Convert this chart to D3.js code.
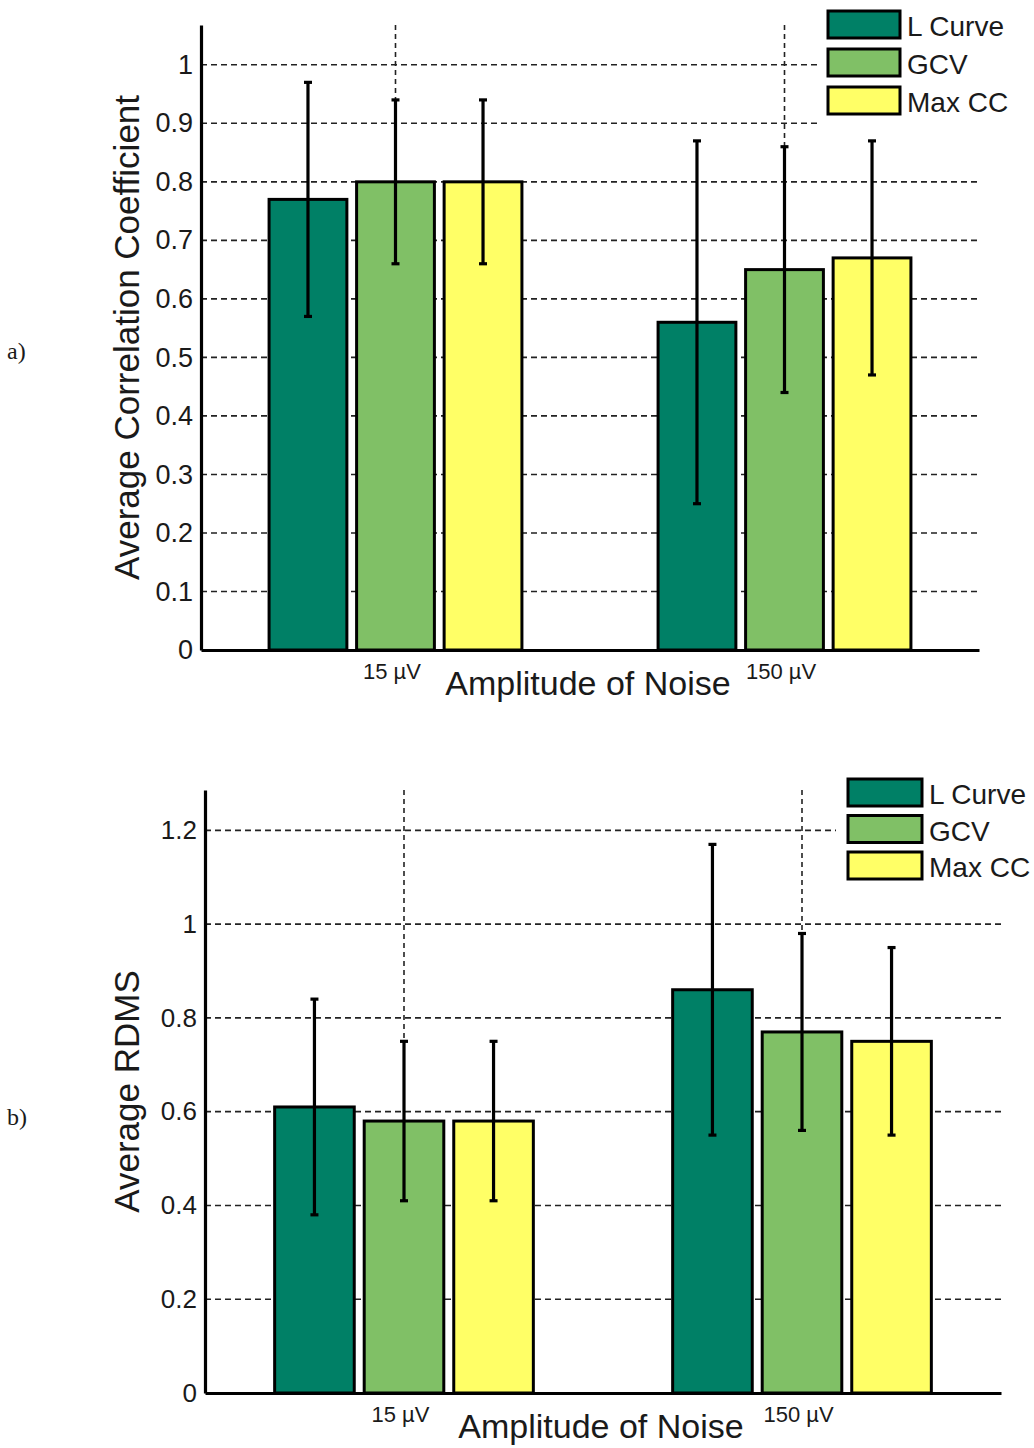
<!DOCTYPE html>
<html>
<head>
<meta charset="utf-8">
<script src="https://cdn.jsdelivr.net/npm/d3@7"></script>
<style>
  body { margin: 0; background: #fff; }
  svg { display: block; }
  text { font-family: "Liberation Sans", Arial, sans-serif; fill: #1a1a1a; }
</style>
</head>
<body>
<svg id="chart" width="1034" height="1448"></svg>
<script>
// data
const methods = ['L Curve', 'GCV', 'Max CC'];
const noiseLevels = ['15 µV', '150 µV'];
const methodColors = ['#008066', '#80c066', '#ffff66'];

// panel a) average correlation coefficient, rows = noise level, cols = method
const ccMeans = [[0.77, 0.80, 0.80], [0.56, 0.65, 0.67]];
const ccErrors = [[0.20, 0.14, 0.14], [0.31, 0.21, 0.20]];
const ccTicks = [0, 0.1, 0.2, 0.3, 0.4, 0.5, 0.6, 0.7, 0.8, 0.9, 1];

// panel b) average RDMS
const rdmsMeans = [[0.61, 0.58, 0.58], [0.86, 0.77, 0.75]];
const rdmsErrors = [[0.23, 0.17, 0.17], [0.31, 0.21, 0.20]];
const rdmsTicks = [0, 0.2, 0.4, 0.6, 0.8, 1, 1.2];

const svg = d3.select('#chart');

function drawPanel(p) {
  const g = svg.append('g');

  const x = d3.scaleLinear().domain([0.5, 2.5]).range([p.left, p.right]);
  const y = d3.scaleLinear().domain([0, p.ymax]).range([p.bottom, p.top]);
  const offset = d3.scalePoint().domain(methods).range([-0.225, 0.225]);
  const barW = x(0.2) - x(0);

  // grid
  g.append('g').selectAll('line')
    .data(p.ticks.filter(d => d > 0))
    .join('line')
    .attr('x1', p.left).attr('x2', p.right)
    .attr('y1', d => y(d)).attr('y2', d => y(d))
    .attr('stroke', '#222').attr('stroke-width', 1.6)
    .attr('stroke-dasharray', '6,4');

  g.append('g').selectAll('line')
    .data(noiseLevels)
    .join('line')
    .attr('x1', (d, i) => x(i + 1)).attr('x2', (d, i) => x(i + 1))
    .attr('y1', p.top).attr('y2', p.bottom)
    .attr('stroke', '#222').attr('stroke-width', 1.6)
    .attr('stroke-dasharray', '5,4');

  // bars
  const rows = [];
  p.means.forEach((row, i) => row.forEach((v, j) => {
    rows.push({ group: i, method: methods[j], color: methodColors[j], value: v, err: p.errors[i][j] });
  }));

  g.append('g').selectAll('rect')
    .data(rows)
    .join('rect')
    .attr('x', d => x(d.group + 1 + offset(d.method)) - barW / 2)
    .attr('y', d => y(d.value))
    .attr('width', barW)
    .attr('height', d => y(0) - y(d.value))
    .attr('fill', d => d.color)
    .attr('stroke', '#000').attr('stroke-width', 3);

  // error bars
  const eb = g.append('g').selectAll('g')
    .data(rows)
    .join('g')
    .attr('stroke', '#000').attr('stroke-width', 3.2);
  eb.append('line')
    .attr('x1', d => x(d.group + 1 + offset(d.method)))
    .attr('x2', d => x(d.group + 1 + offset(d.method)))
    .attr('y1', d => y(d.value - d.err))
    .attr('y2', d => y(d.value + d.err));
  [-1, 1].forEach(s => {
    eb.append('line')
      .attr('x1', d => x(d.group + 1 + offset(d.method)) - 4)
      .attr('x2', d => x(d.group + 1 + offset(d.method)) + 4)
      .attr('y1', d => y(d.value + s * d.err))
      .attr('y2', d => y(d.value + s * d.err));
  });

  // axes
  const yAxis = g.append('g')
    .attr('transform', `translate(${p.left},0)`)
    .call(d3.axisLeft(y).tickValues(p.ticks).tickSize(0).tickPadding(8).tickFormat(d3.format('')));
  yAxis.select('.domain').attr('stroke-width', 3.2);
  yAxis.selectAll('text')
    .style('font-family', '"Liberation Sans", Arial, sans-serif')
    .style('font-size', p.tickFont + 'px')
    .attr('fill', '#1a1a1a');

  const xAxis = g.append('g')
    .attr('transform', `translate(0,${p.bottom})`)
    .call(d3.axisBottom(x).tickValues([1, 2]).tickSize(0).tickPadding(13)
      .tickFormat((d, i) => noiseLevels[i]));
  xAxis.select('.domain').attr('stroke-width', 3.2);
  xAxis.selectAll('text')
    .attr('dx', -4)
    .style('font-family', '"Liberation Sans", Arial, sans-serif')
    .style('font-size', '22px')
    .attr('fill', '#1a1a1a');

  g.append('text')
    .attr('x', (p.left + p.right) / 2 - 2)
    .attr('y', p.bottom + 45)
    .attr('text-anchor', 'middle')
    .style('font-size', '34px')
    .text('Amplitude of Noise');

  g.append('text')
    .attr('transform', `translate(139,${(p.top + p.bottom) / 2}) rotate(-90)`)
    .attr('text-anchor', 'middle')
    .style('font-size', '35px')
    .text(p.yLabel);

  g.append('text')
    .attr('x', 7).attr('y', p.tagY)
    .style('font-family', '"Liberation Serif", "Times New Roman", serif')
    .style('font-size', '24px')
    .text(p.tag);

  // legend
  g.append('rect')
    .attr('x', p.legend.bgX).attr('y', p.legend.y - 12)
    .attr('width', 1034 - p.legend.bgX).attr('height', 3 * p.legend.step + 14)
    .attr('fill', '#fff');

  const leg = g.append('g').selectAll('g')
    .data(methods)
    .join('g')
    .attr('transform', (d, i) => `translate(${p.legend.x},${p.legend.y + i * p.legend.step})`);
  leg.append('rect')
    .attr('width', p.legend.w).attr('height', 27)
    .attr('fill', (d, i) => methodColors[i])
    .attr('stroke', '#000').attr('stroke-width', 3);
  leg.append('text')
    .attr('x', p.legend.w + 7).attr('y', 25)
    .style('font-size', '28px')
    .text(d => d);
}

drawPanel({
  left: 201, right: 979, top: 25, bottom: 650, ymax: 1.068,
  ticks: ccTicks, means: ccMeans, errors: ccErrors, tickFont: 27,
  yLabel: 'Average Correlation Coefficient', tag: 'a)', tagY: 359,
  legend: { x: 828, y: 11, step: 38, w: 72, bgX: 818 }
});

drawPanel({
  left: 205, right: 1001, top: 790, bottom: 1393, ymax: 1.286,
  ticks: rdmsTicks, means: rdmsMeans, errors: rdmsErrors, tickFont: 26,
  yLabel: 'Average RDMS', tag: 'b)', tagY: 1125,
  legend: { x: 848, y: 779, step: 36.5, w: 74, bgX: 836 }
});
</script>
</body>
</html>
